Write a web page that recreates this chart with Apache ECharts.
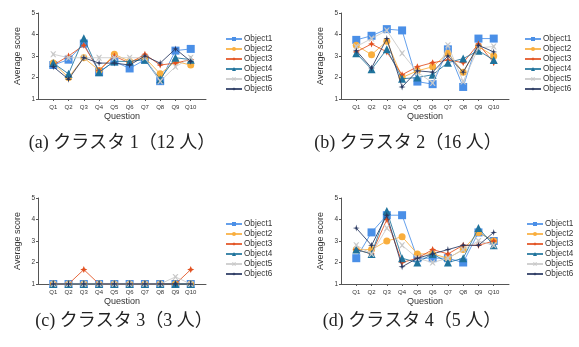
<!DOCTYPE html>
<html><head><meta charset="utf-8">
<script src="https://cdn.jsdelivr.net/npm/echarts@6/dist/echarts.min.js"></script>
<style>html,body{margin:0;padding:0;background:#fff}#c{width:579px;height:347px}</style>
</head><body><div id="c"></div>
<script>
var questions = ['Q1','Q2','Q3','Q4','Q5','Q6','Q7','Q8','Q9','Q10'];
var objectNames = ['Object1','Object2','Object3','Object4','Object5','Object6'];
var yTicks = [1,2,3,4,5];
var captions = ['(a) クラスタ 1（12 人）','(b) クラスタ 2（16 人）','(c) クラスタ 3（3 人）','(d) クラスタ 4（5 人）'];

// Cluster 1 (12 people)
var c1_obj1 = [2.58,2.83,3.58,2.25,2.75,2.42,2.83,1.83,3.25,3.33];
var c1_obj2 = [2.67,2.00,2.92,2.33,3.08,2.75,2.92,2.17,2.75,2.58];
var c1_obj3 = [2.58,3.00,3.50,2.33,3.00,2.67,3.08,2.58,2.67,2.83];
var c1_obj4 = [2.67,2.17,3.83,2.25,2.75,2.75,2.83,1.92,2.92,2.83];
var c1_obj5 = [3.08,2.92,2.92,2.92,2.92,2.92,2.92,1.83,2.50,2.92];
var c1_obj6 = [2.50,1.92,2.92,2.67,2.67,2.58,3.00,2.67,3.33,2.75];
// Cluster 2 (16 people)
var c2_obj1 = [3.75,3.94,4.25,4.19,1.81,1.69,3.31,1.56,3.81,3.81];
var c2_obj2 = [3.50,3.06,3.69,2.00,2.31,2.50,3.13,2.25,3.44,3.00];
var c2_obj3 = [3.19,3.56,3.19,2.13,2.50,2.69,2.81,2.69,3.56,2.69];
var c2_obj4 = [3.13,2.38,3.31,1.94,2.00,2.13,2.69,2.88,3.25,2.81];
var c2_obj5 = [3.44,3.81,4.19,3.13,2.25,1.75,3.50,1.81,3.38,3.44];
var c2_obj6 = [3.25,2.44,3.81,1.56,2.31,2.25,3.00,2.25,3.50,3.19];
// Cluster 3 (3 people)
var c3_obj1 = [1,1,1,1,1,1,1,1,1,1];
var c3_obj2 = [1,1,1,1,1,1,1,1,1,1];
var c3_obj3 = [1,1,1.67,1,1,1,1,1,1,1.67];
var c3_obj4 = [1,1,1,1,1,1,1,1,1,1];
var c3_obj5 = [1,1,1,1,1,1,1,1,1.33,1];
var c3_obj6 = [1,1,1,1,1,1,1,1,1,1];
// Cluster 4 (5 people)
var c4_obj1 = [2.2,3.4,4.2,4.2,2.2,2.2,2.2,2.0,3.4,3.0];
var c4_obj2 = [2.6,2.6,3.0,3.2,2.4,2.4,2.2,2.6,3.4,3.0];
var c4_obj3 = [2.6,2.4,4.0,2.0,2.2,2.6,2.4,2.8,2.8,3.0];
var c4_obj4 = [2.6,2.4,4.4,2.2,2.0,2.4,2.0,2.2,3.6,2.8];
var c4_obj5 = [2.8,2.4,3.6,2.8,2.2,2.0,2.2,2.6,3.0,2.8];
var c4_obj6 = [3.6,2.8,4.2,1.8,2.2,2.4,2.6,2.8,2.8,3.4];

var clusters = [
  [c1_obj1,c1_obj2,c1_obj3,c1_obj4,c1_obj5,c1_obj6],
  [c2_obj1,c2_obj2,c2_obj3,c2_obj4,c2_obj5,c2_obj6],
  [c3_obj1,c3_obj2,c3_obj3,c3_obj4,c3_obj5,c3_obj6],
  [c4_obj1,c4_obj2,c4_obj3,c4_obj4,c4_obj5,c4_obj6]
];

var colors = ['#4a8fe7','#f9ae3d','#e2501f','#1f739c','#c9c9c9','#27365f'];
var symbols = ['rect','circle',
  'path://M5,0L6.5,3.5L10,5L6.5,6.5L5,10L3.5,6.5L0,5L3.5,3.5Z',
  'triangle',
  'path://M0,0L2,0L5,3L8,0L10,0L6.5,5L10,10L8,10L5,7L2,10L0,10L3.5,5Z',
  'path://M5,0L6,4L10,5L6,6L5,10L4,6L0,5L4,4Z'];
var symbolSizes = [8,7,7,8,6,7];

var cats = [''].concat(questions).concat(['']);
var panels = [
  {left:38, top:13, legendLeft:225, legendTop:34, capX:122, capY:143},
  {left:341, top:13, legendLeft:524, legendTop:34, capX:408, capY:143},
  {left:38, top:198, legendLeft:225, legendTop:219, capX:124, capY:321},
  {left:341, top:198, legendLeft:526, legendTop:219, capX:412, capY:321}
];
var gw = 168, gh = 86;

var grid=[], xAxis=[], yAxis=[], series=[], legend=[], graphic=[];
panels.forEach(function(p, k){
  grid.push({left:p.left, top:p.top, width:gw, height:gh});
  xAxis.push({type:'category', gridIndex:k, data:cats, boundaryGap:false,
    name:'Question', nameLocation:'middle', nameGap:13,
    nameTextStyle:{fontSize:9, color:'#333', fontFamily:'Liberation Sans'},
    axisLine:{lineStyle:{color:'#555', width:1}},
    axisTick:{show:true, length:2, interval:function(i,v){return v!=='';}, lineStyle:{color:'#555'}},
    axisLabel:{fontSize:6, color:'#333', margin:5, interval:0, fontFamily:'Liberation Sans'},
    splitLine:{show:false}});
  yAxis.push({type:'value', gridIndex:k, min:yTicks[0], max:yTicks[yTicks.length-1], interval:1,
    name:'Average score', nameLocation:'middle', nameGap:16,
    nameTextStyle:{fontSize:9, color:'#333', fontFamily:'Liberation Sans'},
    axisLine:{show:true, lineStyle:{color:'#555', width:1}},
    axisTick:{show:true, length:2, lineStyle:{color:'#555'}},
    axisLabel:{fontSize:6.5, color:'#333', margin:3, fontFamily:'Liberation Sans'},
    splitLine:{show:false}});
  clusters[k].forEach(function(vals, j){
    series.push({type:'line', name:objectNames[j], xAxisIndex:k, yAxisIndex:k,
      data:[null].concat(vals).concat([null]),
      symbol:symbols[j], symbolSize:symbolSizes[j], showAllSymbol:true,
      itemStyle:{color:colors[j]},
      lineStyle:{color:colors[j], width:1, opacity:0.85},
      emphasis:{disabled:true}, animation:false, z:2+j});
  });
  legend.push({left:p.legendLeft, top:p.legendTop, orient:'vertical', data:objectNames,
    padding:0, itemWidth:16, itemHeight:5, itemGap:0, selectedMode:false,
    textStyle:{fontSize:8.2, lineHeight:10, color:'#333', fontFamily:'Liberation Sans', padding:[0,0,0,-3]}});
  graphic.push({type:'text', x:p.capX, y:p.capY,
    style:{text:captions[k], align:'center', verticalAlign:'middle',
      font:'18px "Liberation Serif", "Noto Sans CJK JP"', fill:'#222'}});
});

var chart = echarts.init(document.getElementById('c'), null, {renderer:'canvas'});
chart.setOption({animation:false, grid:grid, xAxis:xAxis, yAxis:yAxis, series:series, legend:legend, graphic:graphic});
</script></body></html>
